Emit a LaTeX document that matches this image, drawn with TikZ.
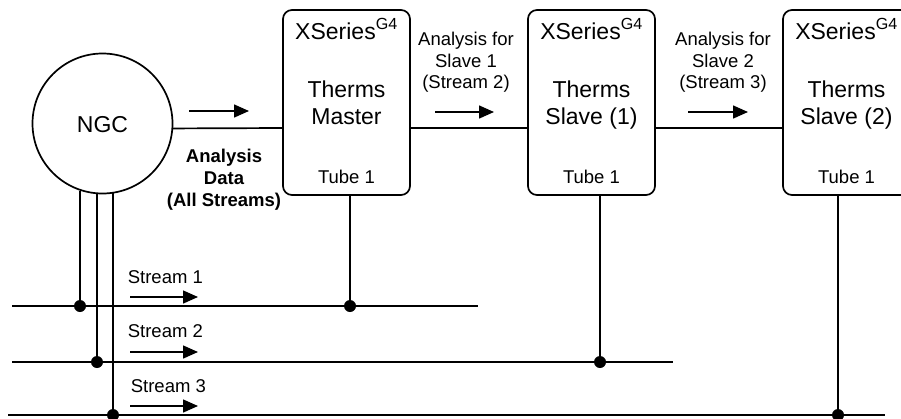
\documentclass[tikz,border=0pt]{standalone}
\usepackage{fontspec}
\setmainfont{Liberation Sans}
\usetikzlibrary{arrows.meta}
\begin{document}
\begin{tikzpicture}[x=1pt,y=-1pt,line width=1.7pt,
  box/.style={draw,rounded corners=9pt,minimum width=127pt,minimum height=185pt,inner sep=0pt},
  big/.style={font=\fontsize{23}{26}\selectfont,inner sep=0pt,anchor=base},
  small/.style={font=\fontsize{18.5}{21.5}\selectfont,inner sep=0pt,align=center},
  flow/.style={line width=1.5pt,-{Triangle[length=15pt,width=13pt]}},
  junction/.style={circle,fill,inner sep=0pt,minimum size=12pt}]
\useasboundingbox (0,0) rectangle (901,418);

% main units
\node[draw,circle,minimum size=140pt,inner sep=0pt] (ngc) at (102.5,123.5) {};
\node[big] (ngct) at (102.5,132) {NGC};
\node[box] (master) at (346.5,102.5) {};
\node[box] (slave1) at (591.5,102.5) {};
\node[box] (slave2) at (846.5,102.5) {};

% box texts
\foreach \b/\l in {master/Master,slave1/Slave (1),slave2/Slave (2)}{
  \node[big] (\b-x) at (\b |- 0,39) {XSeries\textsuperscript{G4}};
  \node[big] (\b-t) at (\b |- 0,97) {Therms};
  \node[big] (\b-l) at (\b |- 0,124) {\l};
  \node[small,anchor=base] (\b-u) at (\b |- 0,183) {Tube 1};
}

% data links
\coordinate (m1) at (283,128);
\coordinate (s1in) at (528,128);
\coordinate (s2in) at (783,128);
\coordinate (m1out) at (410,128);
\coordinate (s1out) at (655,128);
\draw (ngc.-4) -- (m1);
\draw (m1out) -- (s1in);
\draw (s1out) -- (s2in);

\coordinate (a0s) at (189,111); \coordinate (a0e) at (249,111);
\coordinate (a1s) at (435,112); \coordinate (a1e) at (494,112);
\coordinate (a2s) at (688,112); \coordinate (a2e) at (748,112);
\draw[flow] (a0s) -- (a0e);
\draw[flow] (a1s) -- (a1e);
\draw[flow] (a2s) -- (a2e);

\node[small,font=\fontsize{18.5}{22}\selectfont\bfseries] (lab0) at (224,180) {Analysis\\Data\\(All Streams)};
\node[small] (lab1) at (466,62.5) {Analysis for\\Slave 1\\(Stream 2)};
\node[small] (lab2) at (723,62.5) {Analysis for\\Slave 2\\(Stream 3)};

% stream lines
\coordinate (s1a) at (12,306);  \coordinate (s1b) at (478,306);
\coordinate (s2a) at (12,362);  \coordinate (s2b) at (673,362);
\coordinate (s3a) at (8,415);   \coordinate (s3b) at (885,415);
\draw (s1a) -- (s1b);
\draw (s2a) -- (s2b);
\draw (s3a) -- (s3b);

\coordinate (d11) at (80,306);  \coordinate (d12) at (350,306);
\coordinate (d21) at (97,362);  \coordinate (d22) at (600,362);
\coordinate (d31) at (113,415); \coordinate (d32) at (838,415);
\draw (d11) -- (d11 |- ngc.-108.75);
\draw (d21) -- (d21 |- ngc.-94.5);
\draw (d31) -- (d31 |- ngc.-81.4);
\draw (d12) -- (d12 |- master.south);
\draw (d22) -- (d22 |- slave1.south);
\draw (d32) -- (d32 |- slave2.south);
\foreach \d in {d11,d12,d21,d22,d31,d32}
  \node[junction] (j-\d) at (\d) {};

% stream labels and arrows
\node[small,anchor=base west] (st1) at (127,283) {Stream 1};
\node[small,anchor=base west] (st2) at (127,337) {Stream 2};
\node[small,anchor=base west] (st3) at (130,392) {Stream 3};
\coordinate (f1s) at (130,297); \coordinate (f1e) at (198,297);
\coordinate (f2s) at (130,352); \coordinate (f2e) at (198,352);
\coordinate (f3s) at (130,406); \coordinate (f3e) at (198,406);
\draw[flow] (f1s) -- (f1e);
\draw[flow] (f2s) -- (f2e);
\draw[flow] (f3s) -- (f3e);
\end{tikzpicture}
\end{document}
